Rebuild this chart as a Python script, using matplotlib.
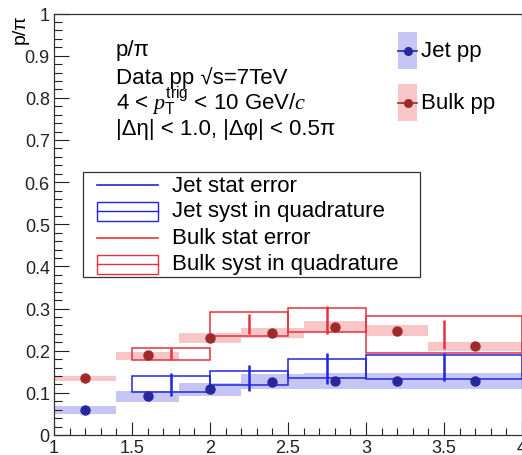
import numpy as np
import matplotlib
matplotlib.use("Agg")
import matplotlib.pyplot as plt
from matplotlib.patches import Rectangle
from matplotlib.lines import Line2D
from matplotlib.ticker import MultipleLocator, FuncFormatter

plt.rcParams['font.family'] = ['Liberation Sans', 'DejaVu Sans']
plt.rcParams['mathtext.fontset'] = 'custom'
plt.rcParams['mathtext.rm'] = 'Liberation Sans'
plt.rcParams['mathtext.it'] = 'Liberation Serif:italic'

# fine binning (shaded bands + points)
bin_edges = [1.0, 1.4, 1.8, 2.2, 2.6, 3.0, 3.4, 4.0]
bin_centers = [1.2, 1.6, 2.0, 2.4, 2.8, 3.2, 3.7]
jet_val = [0.060, 0.093, 0.108, 0.126, 0.127, 0.128, 0.128]
jet_band_lo = [0.050, 0.079, 0.092, 0.108, 0.108, 0.108, 0.108]
jet_band_hi = [0.068, 0.105, 0.124, 0.145, 0.147, 0.147, 0.147]
bulk_val = [0.135, 0.189, 0.231, 0.242, 0.256, 0.247, 0.210]
bulk_band_lo = [0.128, 0.179, 0.219, 0.231, 0.245, 0.235, 0.199]
bulk_band_hi = [0.141, 0.198, 0.243, 0.253, 0.270, 0.260, 0.221]

# coarse binning (open syst boxes + stat bars)
coarse_edges = [1.5, 2.0, 2.5, 3.0, 4.0]
coarse_centers = [1.75, 2.25, 2.75, 3.5]
jet_coarse = [0.120, 0.135, 0.158, 0.161]
jet_syst = [0.019, 0.017, 0.022, 0.029]
jet_stat = [0.027, 0.030, 0.037, 0.034]
bulk_coarse = [0.193, 0.264, 0.273, 0.238]
bulk_syst = [0.014, 0.028, 0.028, 0.044]
bulk_stat = [0.014, 0.024, 0.034, 0.034]

jet_line = '#2323e0'
jet_mark = '#28289c'
jet_shade = '#c6c6f6'
bulk_line = '#e6323c'
bulk_mark = '#a02a2a'
bulk_shade = '#f8c6c6'

W, H = 522, 456
fig = plt.figure(figsize=(W / 100, H / 100), dpi=100)
ax = fig.add_axes([54 / W, 1 - 436 / H, 468 / W, 421.5 / H])

def px(x, y):
    return (x / W, 1 - y / H)

# shaded bands
edges = np.array(bin_edges)
ax.bar(edges[:-1], np.array(jet_band_hi) - np.array(jet_band_lo), bottom=jet_band_lo,
       width=np.diff(edges), align='edge', color=jet_shade, linewidth=0, zorder=1)
ax.bar(edges[:-1], np.array(bulk_band_hi) - np.array(bulk_band_lo), bottom=bulk_band_lo,
       width=np.diff(edges), align='edge', color=bulk_shade, linewidth=0, zorder=1)

# open syst boxes
cedges = np.array(coarse_edges)
for val, syst, col in [(jet_coarse, jet_syst, jet_line), (bulk_coarse, bulk_syst, bulk_line)]:
    val = np.array(val)
    syst = np.array(syst)
    ax.bar(cedges[:-1], 2 * syst, bottom=val - syst, width=np.diff(cedges), align='edge',
           fill=False, edgecolor=col, linewidth=1.1, zorder=2)

# stat bars
ax.vlines(coarse_centers, np.array(jet_coarse) - np.array(jet_stat),
          np.array(jet_coarse) + np.array(jet_stat), color=jet_line, lw=1.8, zorder=3)
ax.vlines(coarse_centers, np.array(bulk_coarse) - np.array(bulk_stat),
          np.array(bulk_coarse) + np.array(bulk_stat), color=bulk_line, lw=1.8, zorder=3)

# points
ax.plot(bin_centers, jet_val, 'o', color=jet_mark, ms=6.5, zorder=4)
ax.plot(bin_centers, bulk_val, 'o', color=bulk_mark, ms=6.5, zorder=4)

ax.set_xlim(1, 4)
ax.set_ylim(0, 1.0)
ax.xaxis.set_major_locator(MultipleLocator(0.5))
ax.xaxis.set_minor_locator(MultipleLocator(0.1))
ax.yaxis.set_major_locator(MultipleLocator(0.1))
ax.yaxis.set_minor_locator(MultipleLocator(0.02))
fmt = FuncFormatter(lambda v, p: '%g' % round(v, 3))
ax.xaxis.set_major_formatter(fmt)
ax.yaxis.set_major_formatter(fmt)
ax.tick_params(axis='both', which='both', direction='in', labelsize=13, width=0.8, colors='#222222')
ax.tick_params(axis='y', which='major', length=11, pad=3)
ax.tick_params(axis='y', which='minor', length=5.5)
ax.tick_params(axis='x', which='major', length=9.5, pad=3)
ax.tick_params(axis='x', which='minor', length=5)
for s in ax.spines.values():
    s.set_linewidth(0.9)
    s.set_color('#333333')

ax.set_ylabel('p/π', loc='top', fontsize=14)
ax.yaxis.set_label_coords(-0.055, 1.0)

# info text
info = ['p/π',
        'Data pp √s=7TeV',
        r'4 < $p_{\rm T}^{\rm trig}$ < 10 GeV/$c$',
        '|Δη| < 1.0, |Δφ| < 0.5π']
info_y = [56, 84, 110, 135]
for t, y in zip(info, info_y):
    fig.text(*px(116, y), t, fontsize=16, va='baseline', ha='left')

# Jet pp / Bulk pp legend
for (y0, y1, shade, col, lab) in [(33, 70, jet_shade, jet_mark, 'Jet pp'),
                                   (85, 122, bulk_shade, bulk_mark, 'Bulk pp')]:
    x0, y0f = px(398, y1)
    x1, y1f = px(417, y0)
    fig.add_artist(Rectangle((x0, y0f), x1 - x0, y1f - y0f, transform=fig.transFigure,
                             facecolor=shade, edgecolor='none'))
    ym = (y0 + y1) / 2
    fig.add_artist(Line2D([px(398, ym)[0], px(417, ym)[0]], [px(398, ym)[1]] * 2,
                          transform=fig.transFigure, color=col, lw=1.2,
                          marker=None))
    fig.add_artist(Line2D([px(407.5, ym)[0]], [px(407.5, ym)[1]], transform=fig.transFigure,
                          color=col, marker='o', ms=5.5, lw=0))
    fig.text(*px(421, ym), lab, fontsize=16, va='center', ha='left')

# stat/syst legend box
lx0, ly0 = px(83, 278)
lx1, ly1 = px(420, 173)
fig.add_artist(Rectangle((lx0, ly0), lx1 - lx0, ly1 - ly0, transform=fig.transFigure,
                         facecolor='white', edgecolor='#333333', lw=0.9, zorder=5))
leg_rows = [('Jet stat error', 'line', jet_line),
            ('Jet syst in quadrature', 'box', jet_line),
            ('Bulk stat error', 'line', bulk_line),
            ('Bulk syst in quadrature', 'box', bulk_line)]
row_y = [186, 212, 239, 265]
for (lab, kind, col), y in zip(leg_rows, row_y):
    if kind == 'line':
        fig.add_artist(Line2D([px(97, y)[0], px(158, y)[0]], [px(97, y)[1]] * 2,
                              transform=fig.transFigure, color=col, lw=1.2, zorder=6))
    else:
        bx0, by0 = px(97, y + 9.5)
        bx1, by1 = px(158, y - 9.5)
        fig.add_artist(Rectangle((bx0, by0), bx1 - bx0, by1 - by0, transform=fig.transFigure,
                                 facecolor='none', edgecolor=col, lw=1.0, zorder=6))
        fig.add_artist(Line2D([bx0, bx1], [px(0, y)[1]] * 2, transform=fig.transFigure,
                              color=col, lw=1.0, zorder=6))
    fig.text(*px(172, y), lab, fontsize=16, va='center', ha='left', zorder=7)

fig.savefig('out.png', dpi=100)
